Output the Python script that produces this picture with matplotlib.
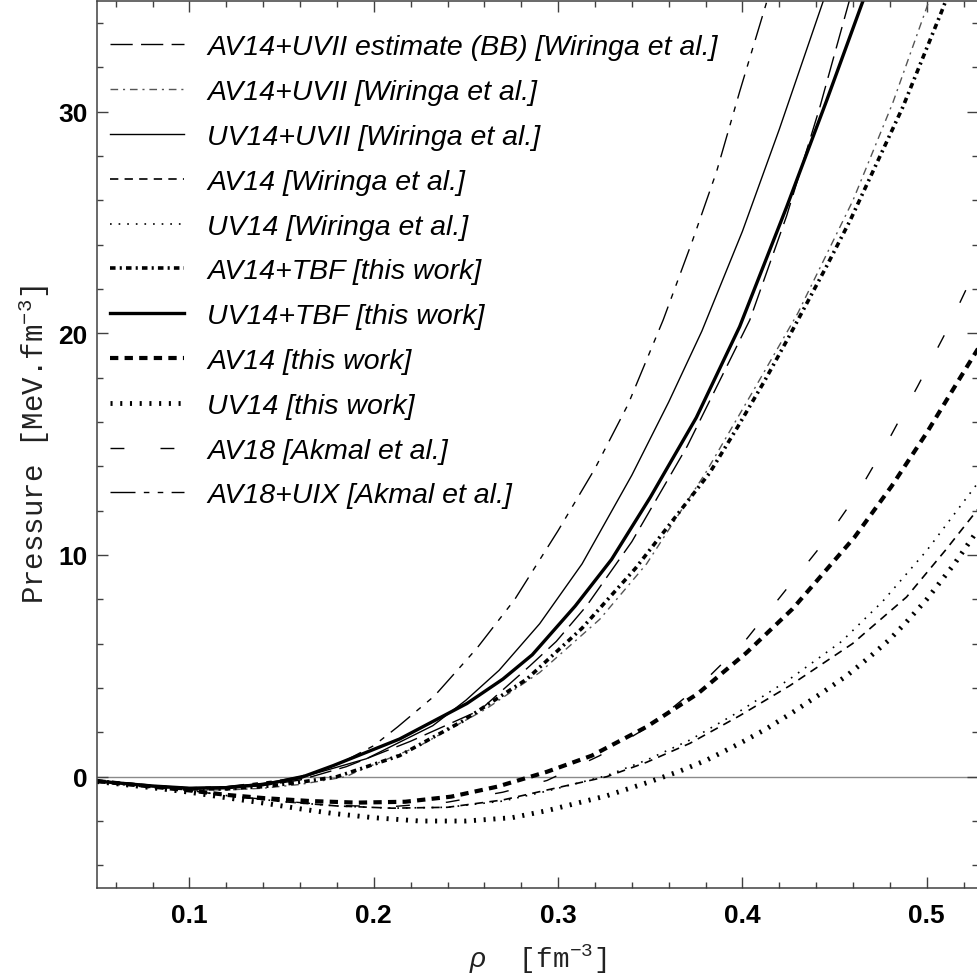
# pressure of neutron matter vs density, several potentials
import numpy as np
import matplotlib
matplotlib.use("Agg")
import matplotlib.pyplot as plt
from matplotlib.ticker import MultipleLocator

# AV14+UVII estimate (BB) [Wiringa et al.]
rho_av14_uvii_bb = [0.05, 0.08, 0.10, 0.12, 0.14, 0.16, 0.185, 0.22, 0.2576, 0.2847, 0.299,
                    0.3154, 0.34, 0.37, 0.404, 0.424, 0.442, 0.458]
p_av14_uvii_bb = [-0.2, -0.42, -0.52, -0.52, -0.4, -0.15, 0.45, 1.6, 3.0, 5.0, 6.1,
                  7.7, 10.6, 14.9, 20.6, 25.3, 30.2, 35.0]

# AV14+UVII [Wiringa et al.]
rho_av14_uvii = [0.05, 0.08, 0.10, 0.12, 0.14, 0.16, 0.185, 0.19, 0.225, 0.261, 0.29, 0.3226,
                 0.348, 0.38, 0.41, 0.43, 0.46, 0.4816, 0.50, 0.505]
p_av14_uvii = [-0.2, -0.45, -0.58, -0.6, -0.52, -0.35, 0.0, 0.2, 1.4, 3.06, 4.7, 7.1,
               9.6, 13.7, 18.0, 20.9, 26.0, 30.4, 34.7, 36.0]

# UV14+UVII [Wiringa et al.]
rho_uv14_uvii = [0.05, 0.08, 0.10, 0.12, 0.14, 0.16, 0.196, 0.232, 0.25, 0.268, 0.29, 0.313,
                 0.34, 0.36, 0.378, 0.40, 0.42, 0.4435, 0.45]
p_uv14_uvii = [-0.2, -0.4, -0.5, -0.45, -0.3, -0.05, 0.81, 2.3, 3.45, 4.8, 6.9, 9.6,
               13.6, 16.9, 20.1, 24.6, 29.2, 34.9, 36.4]

# AV14 [Wiringa et al.]
rho_av14_w = [0.05, 0.08, 0.10, 0.12, 0.15, 0.18, 0.21, 0.24, 0.27, 0.294, 0.3264, 0.348,
              0.3714, 0.3985, 0.4256, 0.4597, 0.489, 0.51, 0.53]
p_av14_w = [-0.2, -0.45, -0.62, -0.85, -1.12, -1.32, -1.42, -1.38, -1.05, -0.6, 0.0, 0.65,
            1.5, 2.75, 4.1, 6.0, 8.1, 10.2, 12.3]

# UV14 [Wiringa et al.]
rho_uv14_w = [0.05, 0.08, 0.10, 0.12, 0.15, 0.18, 0.21, 0.24, 0.27, 0.294, 0.3264, 0.348,
              0.3714, 0.3985, 0.4256, 0.4538, 0.476, 0.50, 0.53]
p_uv14_w = [-0.2, -0.45, -0.62, -0.85, -1.12, -1.32, -1.42, -1.38, -1.1, -0.65, 0.05, 0.75,
            1.65, 2.95, 4.4, 6.1, 7.9, 10.2, 13.5]

# AV14+TBF [this work]
rho_av14_tbf = [0.05, 0.08, 0.10, 0.12, 0.14, 0.16, 0.18, 0.214, 0.248, 0.283, 0.313, 0.342,
                0.3822, 0.3976, 0.412, 0.4256, 0.4455, 0.4585, 0.487, 0.508, 0.515]
p_av14_tbf = [-0.2, -0.45, -0.55, -0.55, -0.45, -0.25, 0.0, 0.95, 2.5, 4.4, 6.7, 9.4,
              13.7, 15.8, 17.85, 19.9, 23.0, 25.1, 30.2, 34.5, 36.0]

# UV14+TBF [this work]
rho_uv14_tbf = [0.05, 0.08, 0.10, 0.12, 0.14, 0.16, 0.178, 0.214, 0.2505, 0.27, 0.286, 0.3093,
                0.329, 0.35, 0.375, 0.3985, 0.424, 0.4457, 0.465, 0.47]
p_uv14_tbf = [-0.2, -0.42, -0.52, -0.5, -0.35, -0.05, 0.5, 1.7, 3.3, 4.4, 5.5, 7.7,
              9.8, 12.6, 16.2, 20.3, 25.7, 30.5, 34.9, 36.0]

# AV14 [this work]
rho_av14_tw = [0.05, 0.08, 0.10, 0.12, 0.141, 0.166, 0.191, 0.217, 0.242, 0.267, 0.2939,
               0.3183, 0.348, 0.3757, 0.4023, 0.4272, 0.4608, 0.4809, 0.4999, 0.5167, 0.53]
p_av14_tw = [-0.2, -0.45, -0.62, -0.82, -0.97, -1.1, -1.17, -1.13, -0.9, -0.45, 0.22,
             0.95, 2.25, 3.74, 5.6, 7.57, 10.8, 13.1, 15.5, 17.8, 19.6]

# UV14 [this work]
rho_uv14_tw = [0.05, 0.08, 0.10, 0.12, 0.141, 0.16, 0.177, 0.20, 0.225, 0.25, 0.275, 0.294,
               0.3264, 0.3497, 0.366, 0.3806, 0.3985, 0.413, 0.4272, 0.4435, 0.4565, 0.469,
               0.48, 0.489, 0.50, 0.515, 0.53]
p_uv14_tw = [-0.22, -0.5, -0.7, -0.95, -1.2, -1.45, -1.65, -1.85, -2.0, -2.0, -1.85, -1.53,
             -0.86, -0.23, 0.25, 0.75, 1.5, 2.16, 2.9, 3.8, 4.55, 5.4,
             6.2, 6.98, 8.0, 9.6, 11.4]

# AV18 [Akmal et al.]
rho_av18 = [0.05, 0.08, 0.10, 0.12, 0.15, 0.18, 0.21, 0.24, 0.27, 0.294, 0.3226, 0.35,
            0.3768, 0.4012, 0.4435, 0.4619, 0.4787, 0.495, 0.5107, 0.5232, 0.53]
p_av18 = [-0.2, -0.45, -0.62, -0.85, -1.1, -1.3, -1.35, -1.15, -0.7, -0.17, 0.95, 2.3,
          4.1, 6.1, 10.5, 12.7, 15.1, 17.6, 20.1, 22.3, 23.5]

# AV18+UIX [Akmal et al.]
rho_av18_uix = [0.05, 0.08, 0.10, 0.12, 0.14, 0.15, 0.166, 0.184, 0.20, 0.213, 0.233, 0.256,
                0.2765, 0.30, 0.32, 0.338, 0.357, 0.373, 0.386, 0.3985, 0.413, 0.42]
p_av18_uix = [-0.2, -0.42, -0.5, -0.45, -0.25, -0.15, 0.13, 0.7, 1.4, 2.25, 3.65, 5.8,
              8.0, 11.1, 13.9, 16.8, 20.6, 24.2, 27.3, 30.9, 34.9, 36.5]

labels = [
    "AV14+UVII estimate (BB) [Wiringa et al.]",
    "AV14+UVII [Wiringa et al.]",
    "UV14+UVII [Wiringa et al.]",
    "AV14 [Wiringa et al.]",
    "UV14 [Wiringa et al.]",
    "AV14+TBF [this work]",
    "UV14+TBF [this work]",
    "AV14 [this work]",
    "UV14 [this work]",
    "AV18 [Akmal et al.]",
    "AV18+UIX [Akmal et al.]",
]


def main():
    plt.rcParams['lines.scale_dashes'] = False
    plt.rcParams['lines.dash_capstyle'] = 'butt'
    plt.rcParams['mathtext.fontset'] = 'custom'
    plt.rcParams['mathtext.rm'] = 'Liberation Mono'
    plt.rcParams['mathtext.it'] = 'Liberation Sans:italic'
    fig = plt.figure(figsize=(9.77, 9.79), dpi=100)
    ax = fig.add_axes([0.0996, 0.0924, 0.9014, 0.9058])

    ax.axhline(0, color="#8a8a8a", lw=1.0, zorder=1)

    series = [
        (rho_av14_uvii_bb, p_av14_uvii_bb, dict(color="black", lw=1.0, dashes=(16, 6))),
        (rho_av14_uvii, p_av14_uvii, dict(color="#555555", lw=1.0, dashes=(5.5, 3.5, 1.5, 3.5))),
        (rho_uv14_uvii, p_uv14_uvii, dict(color="black", lw=1.0, ls="-")),
        (rho_av14_w, p_av14_w, dict(color="black", lw=1.2, dashes=(6, 4.5))),
        (rho_uv14_w, p_uv14_w, dict(color="black", lw=1.2, dashes=(1.2, 5))),
        (rho_av14_tbf, p_av14_tbf, dict(color="black", lw=2.6, dashes=(4, 3, 1.5, 3))),
        (rho_uv14_tbf, p_uv14_tbf, dict(color="black", lw=2.4, ls="-")),
        (rho_av14_tw, p_av14_tw, dict(color="black", lw=3.0, dashes=(6, 4.5))),
        (rho_uv14_tw, p_uv14_tw, dict(color="black", lw=3.5, dashes=(1.5, 5.5))),
        (rho_av18, p_av18, dict(color="black", lw=1.0, dashes=(10, 26))),
        (rho_av18_uix, p_av18_uix, dict(color="black", lw=1.0, dashes=(18, 6, 4, 6, 4, 6))),
    ]
    for (x, y, style), lab in zip(series, labels):
        ax.plot(np.array(x), np.array(y), label=lab, **style)

    ax.set_xlim(0.05, 0.5278)
    ax.set_ylim(-5, 35)
    ax.xaxis.set_major_locator(MultipleLocator(0.1))
    ax.xaxis.set_minor_locator(MultipleLocator(0.02))
    ax.yaxis.set_major_locator(MultipleLocator(10))
    ax.yaxis.set_minor_locator(MultipleLocator(2))
    ax.tick_params(which="both", direction="in", top=True, right=True, color="#404040", width=1.0)
    ax.tick_params(which="major", length=8)
    ax.tick_params(which="minor", length=4)
    ax.tick_params(axis="x", which="major", pad=11)
    ax.tick_params(axis="y", which="major", pad=7)
    for lbl in ax.get_xticklabels() + ax.get_yticklabels():
        lbl.set_fontfamily("Liberation Sans")
        lbl.set_fontweight("bold")
        lbl.set_fontsize(19)
    for sp in ax.spines.values():
        sp.set_color("#404040")
        sp.set_linewidth(1.1)

    ax.set_ylabel(r"Pressure [MeV.fm$^{-3}$]", family="Liberation Mono", fontsize=21, color="#222222")
    ax.set_xlabel(r"$\it{\rho}$  [fm$^{-3}$]", family="Liberation Mono", fontsize=20, color="#222222")
    ax.yaxis.set_label_coords(-0.052, 0.5)
    ax.xaxis.set_label_coords(0.5, -0.061)

    ax.legend(loc="upper left", bbox_to_anchor=(0.0148, 0.962), frameon=False,
              prop={"family": "Liberation Sans", "style": "italic", "size": 20.5},
              handlelength=2.6, handletextpad=0.8, labelspacing=0.66, borderpad=0,
              borderaxespad=0)

    fig.savefig("out.png", dpi=100)


if __name__ == "__main__":
    main()
